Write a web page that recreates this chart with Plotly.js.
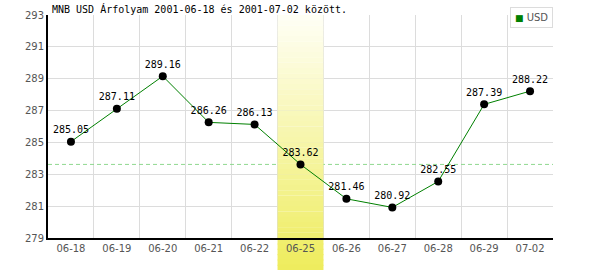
<!DOCTYPE html>
<html>
<head>
<meta charset="utf-8">
<script src="https://cdn.plot.ly/plotly-3.0.1.min.js"></script>
<style>html,body{margin:0;padding:0;background:#fff;}#chart{width:600px;height:270px;}</style>
</head>
<body>
<div id="chart"></div>
<script>
const categories = ['06-18','06-19','06-20','06-21','06-22','06-25','06-26','06-27','06-28','06-29','07-02'];
const usdRates = [285.05, 287.11, 289.16, 286.26, 286.13, 283.62, 281.46, 280.92, 282.55, 287.39, 288.22];
const rateLabels = usdRates.map(v => v.toFixed(2));
const highlightDate = '06-25';
const seriesName = 'USD';
const titleText = 'MNB USD Árfolyam 2001-06-18 és 2001-07-02 között.';
const yMin = 279, yMax = 293, yStep = 2;

const W = 600, H = 270;
const margin = {l: 48, r: 47, t: 15, b: 32};
const plotH = H - margin.t - margin.b;

const hIdx = categories.indexOf(highlightDate);
const shapes = [];

// dashed reference line at highlighted value
shapes.push({
  type: 'line', layer: 'between',
  xref: 'x', x0: -0.5, x1: categories.length - 0.5,
  yref: 'y', y0: usdRates[hIdx], y1: usdRates[hIdx],
  line: {color: '#8fd88f', width: 1, dash: '4px,3px'}
});

// gradient highlight band (strips)
const c0 = [255, 255, 246], c1 = [238, 236, 92];
const pBottom = -margin.b / plotH;
const N = 48;
for (let i = 0; i < N; i++) {
  const p0 = 1 - (1 - pBottom) * i / N;
  const p1 = 1 - (1 - pBottom) * (i + 1) / N;
  const t = (i + 0.5) / N;
  const col = 'rgb(' + c0.map((c, k) => Math.round(c + (c1[k] - c) * t)).join(',') + ')';
  const segs = [];
  if (p0 > 0) segs.push([p0, Math.max(p1, 0), true]);
  if (p1 < 0) segs.push([Math.min(p0, 0), p1, false]);
  segs.forEach(s => {
    if (s[2]) {
      shapes.push({type: 'rect', layer: 'between', xref: 'x', x0: hIdx - 0.5, x1: hIdx + 0.5,
        yref: 'y', y0: yMin + s[1] * (yMax - yMin), y1: yMin + s[0] * (yMax - yMin) + 0.01,
        fillcolor: col, line: {width: 0}});
    } else {
      shapes.push({type: 'rect', layer: 'below', xref: 'x', x0: hIdx - 0.5, x1: hIdx + 0.5,
        yref: 'paper', y0: s[1] - 0.005, y1: s[0],
        fillcolor: col, line: {width: 0}});
    }
  });
}

const trace = {
  type: 'scatter', mode: 'lines+markers+text',
  x: categories, y: usdRates, text: rateLabels,
  textposition: 'top center',
  textfont: {family: 'DejaVu Sans Mono', size: 10, color: '#000'},
  line: {color: '#008000', width: 1},
  marker: {color: '#000', size: 8},
  cliponaxis: false, showlegend: false, hoverinfo: 'none'
};

const layout = {
  width: W, height: H, margin: margin,
  paper_bgcolor: '#fff', plot_bgcolor: '#fff',
  showlegend: false,
  title: {text: titleText, font: {family: 'DejaVu Sans Mono', size: 10, color: '#000'},
    xref: 'container', x: 52 / W, xanchor: 'left', yref: 'container', y: 1 - 9 / H, yanchor: 'middle'},
  xaxis: {type: 'category', range: [-0.5, categories.length - 0.5], tickson: 'boundaries',
    showgrid: true, gridcolor: '#dcdcdc', gridwidth: 1, ticks: '',
    showline: true, linecolor: '#000', linewidth: 2, zeroline: false, fixedrange: true,
    tickfont: {family: 'DejaVu Sans', size: 10, color: '#555'}},
  yaxis: {range: [yMin, yMax], dtick: yStep, tick0: yMin, showgrid: true, gridcolor: '#dcdcdc', gridwidth: 1,
    ticks: '', showline: true, linecolor: '#000', linewidth: 2, zeroline: false, fixedrange: true,
    tickfont: {family: 'DejaVu Sans', size: 10, color: '#555'}},
  shapes: shapes,
  annotations: [{
    xref: 'paper', x: 1, xanchor: 'right', yref: 'paper', y: 1 + 8 / plotH, yanchor: 'top',
    showarrow: false, text: '<span style="color:#008000;font-size:9px">■</span> ' + seriesName,
    font: {family: 'DejaVu Sans', size: 10, color: '#555'},
    bgcolor: '#fff', bordercolor: '#dcdcdc', borderwidth: 1, borderpad: 4
  }]
};

Plotly.newPlot('chart', [trace], layout, {staticPlot: true, displayModeBar: false});
</script>
</body>
</html>
